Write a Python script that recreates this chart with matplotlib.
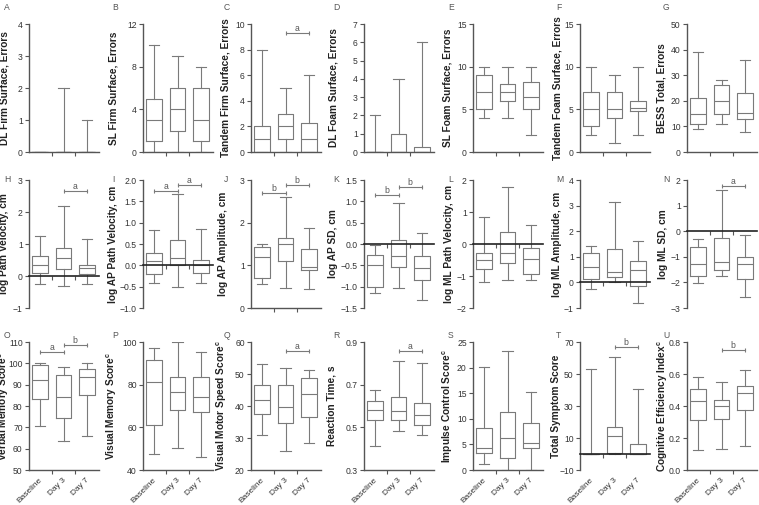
import matplotlib
matplotlib.use('Agg')
import matplotlib.pyplot as plt
from matplotlib.ticker import FixedLocator

plt.rcParams['font.family'] = ['Liberation Sans', 'DejaVu Sans']

categories = ['Baseline', 'Day 3', 'Day 7']

# five-number summaries per time point: [min, q1, median, q3, max]
A_stats = [[0, 0, 0, 0, 0], [0, 0, 0, 0, 2], [0, 0, 0, 0, 1]]
B_stats = [[0, 1, 3, 5, 10], [0, 2, 4, 6, 9], [0, 1, 3, 6, 8]]
C_stats = [[0, 0, 1, 2, 8], [0, 1, 2, 3, 5], [0, 0, 1, 2.25, 6]]
D_stats = [[0, 0, 0, 0, 2], [0, 0, 0, 1, 4], [0, 0, 0, 0.25, 6]]
E_stats = [[4, 5, 7, 9, 10], [4, 6, 7, 8, 10], [2, 5, 6.5, 8.2, 10]]
F_stats = [[2, 3, 5, 7, 10], [1, 4, 5, 7, 9], [2, 4.8, 5.1, 6, 10]]
G_stats = [[9, 11, 15, 21, 39], [11, 15, 20, 26, 28], [8, 13, 15.3, 23, 36]]
H_stats = [[-0.25, 0.1, 0.33, 0.62, 1.25], [-0.3, 0.22, 0.55, 0.89, 2.2], [-0.25, 0.05, 0.26, 0.35, 1.15]]
I_stats = [[-0.42, -0.21, 0.09, 0.29, 0.82], [-0.5, 0.0, 0.18, 0.59, 1.67], [-0.42, -0.17, 0.0, 0.12, 0.85]]
J_stats = [[0.56, 0.71, 1.2, 1.42, 1.5], [0.47, 1.1, 1.49, 1.64, 2.6], [0.44, 0.9, 0.95, 1.39, 1.88]]
K_stats = [[-1.15, -1.0, -0.5, -0.26, -0.02], [-1.04, -0.53, -0.27, 0.09, 0.95], [-1.31, -0.84, -0.56, -0.29, 0.26]]
L_stats = [[-1.18, -0.78, -0.5, -0.28, 0.83], [-1.14, -0.59, -0.29, 0.36, 1.79], [-1.14, -0.95, -0.48, -0.12, 0.58]]
M_stats = [[-0.24, 0.13, 0.62, 1.14, 1.43], [0.0, 0.2, 0.42, 1.3, 3.14], [-0.8, -0.14, 0.47, 0.85, 1.6]]
N_stats = [[-2.02, -1.76, -1.29, -0.62, -0.32], [-1.74, -1.53, -1.2, -0.28, 1.61], [-2.56, -1.87, -1.29, -0.99, -0.15]]
O_stats = [[70.4, 83.3, 92.4, 99.2, 100], [63.7, 74.4, 84, 94.3, 98.4], [66, 85.2, 93.4, 97.3, 100]]
P_stats = [[47.4, 61.2, 81.3, 91.4, 97.3], [50.2, 68.3, 76.5, 83.5, 100], [46.3, 67.3, 74.3, 83.5, 95.3]]
Q_stats = [[30.8, 37.5, 42.0, 46.7, 53.2], [25.8, 34.7, 39.8, 46.7, 51.9], [28.4, 36.5, 43.9, 48.8, 51.1]]
R_stats = [[0.413, 0.536, 0.583, 0.625, 0.674], [0.485, 0.536, 0.575, 0.641, 0.81], [0.462, 0.512, 0.556, 0.614, 0.803]]
S_stats = [[1.1, 3.3, 4.25, 8.2, 20.2], [0, 2.3, 6.2, 11.3, 23.2], [0, 4.2, 5.2, 9.2, 15.2]]
T_stats = [[0, 0, 0, 0, 53.2], [0, 0.6, 11.1, 17, 60.6], [0, 0, 0, 6.1, 40.6]]
U_stats = [[0.126, 0.31, 0.434, 0.507, 0.58], [0.134, 0.318, 0.40, 0.44, 0.551], [0.151, 0.373, 0.482, 0.524, 0.624]]

y_labels = {
    'A': 'DL Firm Surface, Errors', 'B': 'SL Firm Surface, Errors',
    'C': 'Tandem Firm Surface, Errors', 'D': 'DL Foam Surface, Errors',
    'E': 'SL Foam Surface, Errors', 'F': 'Tandem Foam Surface, Errors',
    'G': 'BESS Total, Errors', 'H': 'log Path Velocity, cm',
    'I': 'log AP Path Velocity, cm', 'J': 'log AP Amplitude, cm',
    'K': 'log AP SD, cm', 'L': 'log ML Path Velocity, cm',
    'M': 'log ML Amplitude, cm', 'N': 'log ML SD, cm',
    'O': 'Verbal Memory Score$^\\mathregular{c}$', 'P': 'Visual Memory Score$^\\mathregular{c}$',
    'Q': 'Visual Motor Speed Score$^\\mathregular{c}$', 'R': 'Reaction Time, s',
    'S': 'Impulse Control Score$^\\mathregular{c}$', 'T': 'Total Symptom Score',
    'U': 'Cognitive Efficiency Index$^\\mathregular{c}$',
}

y_ticks = {
    'A': [0, 1, 2, 3, 4], 'B': [0, 4, 8, 12], 'C': [0, 2, 4, 6, 8, 10],
    'D': [0, 1, 2, 3, 4, 5, 6, 7], 'E': [0, 5, 10, 15], 'F': [0, 5, 10, 15],
    'G': [0, 10, 20, 30, 40, 50], 'H': [-1, 0, 1, 2, 3],
    'I': [-1.0, -0.5, 0.0, 0.5, 1.0, 1.5, 2.0], 'J': [0, 1, 2, 3],
    'K': [-1.5, -1.0, -0.5, 0.0, 0.5, 1.0, 1.5], 'L': [-2, -1, 0, 1, 2],
    'M': [-1, 0, 1, 2, 3, 4], 'N': [-3, -2, -1, 0, 1, 2],
    'O': [50, 60, 70, 80, 90, 100, 110], 'P': [40, 60, 80, 100],
    'Q': [20, 30, 40, 50, 60], 'R': [0.3, 0.5, 0.7, 0.9],
    'S': [0, 5, 10, 15, 20, 25], 'T': [-10, 10, 30, 50, 70],
    'U': [0.0, 0.2, 0.4, 0.6, 0.8],
}

# significance brackets: (from group, to group, height, letter)
sig_marks = {
    'C': [(2, 3, 9.3, 'a')],
    'H': [(2, 3, 2.67, 'a')],
    'I': [(1, 2, 1.75, 'a'), (2, 3, 1.88, 'a')],
    'J': [(1, 2, 2.69, 'b'), (2, 3, 2.88, 'b')],
    'K': [(1, 2, 1.14, 'b'), (2, 3, 1.34, 'b')],
    'N': [(2, 3, 1.78, 'a')],
    'O': [(1, 2, 105.4, 'a'), (2, 3, 108.6, 'b')],
    'Q': [(2, 3, 57.1, 'a')],
    'R': [(2, 3, 0.86, 'a')],
    'T': [(2, 3, 66.9, 'b')],
    'U': [(2, 3, 0.75, 'b')],
}

stats_by_panel = {
    'A': A_stats, 'B': B_stats, 'C': C_stats, 'D': D_stats, 'E': E_stats,
    'F': F_stats, 'G': G_stats, 'H': H_stats, 'I': I_stats, 'J': J_stats,
    'K': K_stats, 'L': L_stats, 'M': M_stats, 'N': N_stats, 'O': O_stats,
    'P': P_stats, 'Q': Q_stats, 'R': R_stats, 'S': S_stats, 'T': T_stats,
    'U': U_stats,
}
zero_axis_panels = {'H', 'I', 'K', 'L', 'M', 'N', 'T'}

panel_rows = [list('ABCDEFG'), list('HIJKLMN'), list('OPQRSTU')]

# ---- layout (pixels) ----
W, H = 759, 505
col_x = [29, 143, 251, 364, 473, 580, 687]
row_top = [24, 180, 342]
ax_w, ax_h = 70, 128
letter_x = [4, 112, 224, 333, 448, 556, 663]
letter_y = [8, 180, 336]
label_off = {
    'A': 24, 'B': 30, 'C': 25, 'D': 30, 'E': 25, 'F': 23, 'G': 26,
    'H': 25, 'I': 30, 'J': 28, 'K': 31, 'L': 24, 'M': 23, 'N': 24,
    'O': 25, 'P': 31, 'Q': 29, 'R': 32, 'S': 25, 'T': 24, 'U': 24,
}

BOX_C = '#7a7a7a'
AX_C = '#555555'
TXT_C = '#333333'
unit_px = 23.5
x0 = 1 - 11 / unit_px
xlim = (x0, x0 + ax_w / unit_px)

fig = plt.figure(figsize=(W / 100, H / 100), dpi=100)
fig.patch.set_facecolor('white')

for r, row in enumerate(panel_rows):
    for c, key in enumerate(row):
        left = col_x[c] / W
        bottom = 1 - (row_top[r] + ax_h) / H
        ax = fig.add_axes([left, bottom, ax_w / W, ax_h / H])
        stats = stats_by_panel[key]
        bxp_stats = []
        for s in stats:
            bxp_stats.append({'whislo': s[0], 'q1': s[1], 'med': s[2],
                              'q3': s[3], 'whishi': s[4], 'fliers': []})
        lp = dict(color=BOX_C, linewidth=0.8)
        ax.bxp(bxp_stats, positions=[1, 2, 3], widths=0.68, capwidths=0.45,
               showfliers=False, boxprops=lp, whiskerprops=lp, capprops=lp,
               medianprops=lp, patch_artist=False)
        ticks = y_ticks[key]
        ax.set_ylim(ticks[0], ticks[-1])
        ax.set_xlim(*xlim)
        ax.yaxis.set_major_locator(FixedLocator(ticks))
        ax.xaxis.set_major_locator(FixedLocator([1.5, 2.5]))
        ax.set_xticklabels([])
        for sp in ('top', 'right'):
            ax.spines[sp].set_visible(False)
        ax.spines['left'].set_color(AX_C)
        ax.spines['left'].set_linewidth(1.0)
        ax.spines['bottom'].set_color(AX_C)
        ax.spines['bottom'].set_linewidth(1.0)
        if key in zero_axis_panels:
            ax.spines['bottom'].set_position(('data', 0))
            ax.spines['bottom'].set_color('#222222')
            ax.spines['bottom'].set_linewidth(1.2)
        ax.tick_params(axis='both', colors=AX_C, labelcolor=TXT_C,
                       labelsize=6.2, length=3, width=0.8, pad=1.5)
        ax.set_facecolor('none')
        ax.set_ylabel(y_labels[key], fontsize=7.3, fontweight='bold',
                      color='#222222', va='center')
        ax.yaxis.set_label_coords(-label_off[key] / ax_w, 0.5)
        for (g1, g2, yv, lt) in sig_marks.get(key, []):
            ax.plot([g1, g2], [yv, yv], color=BOX_C, lw=0.8,
                    marker='|', markersize=3, markeredgewidth=0.8,
                    clip_on=False)
            ax.text((g1 + g2) / 2, yv, lt, ha='center', va='bottom',
                    fontsize=6.2, color='#555555')
        if r == 2:
            for i, cat in enumerate(categories):
                ax.text(i + 1 + 0.15, -0.05, cat, transform=ax.get_xaxis_transform(),
                        rotation=45, ha='right', va='top', fontsize=6,
                        color=TXT_C)
        fig.text(letter_x[c] / W, 1 - letter_y[r] / H, key, ha='left',
                 va='center', fontsize=6.2, color='#555555')

fig.savefig('out.png', dpi=100, facecolor='white')
